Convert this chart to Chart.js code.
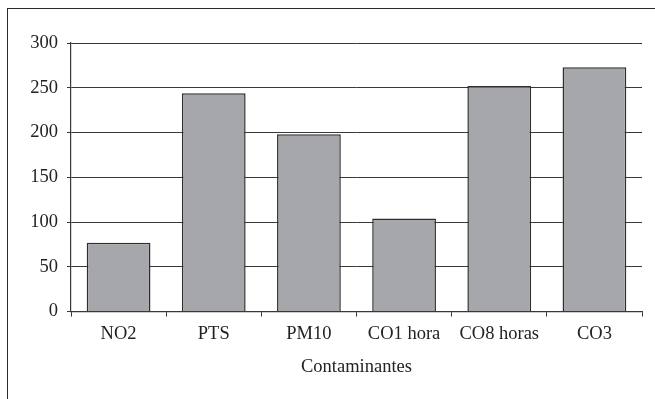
<!DOCTYPE html>
<html>
<head>
<meta charset="utf-8">
<script src="https://cdn.jsdelivr.net/npm/chart.js@4"></script>
<style>
  html, body { margin: 0; padding: 0; background: #fff; overflow: hidden; }
  #wrap { position: relative; width: 655px; height: 399px; }
  #frame { position: absolute; left: 7px; top: 8px; width: 700px; height: 500px;
           border: 1.5px solid #2a2a2a; box-sizing: border-box; }
  canvas { position: absolute; left: 0; top: 0; }
</style>
</head>
<body>
<div id="wrap">
  <div id="frame"></div>
  <canvas id="chart" width="655" height="399"></canvas>
</div>
<script>
// Contaminant categories and their values
const categories = ['NO2', 'PTS', 'PM10', 'CO1 hora', 'CO8 horas', 'CO3'];
const values = [77, 244, 198, 104, 252, 273];
const yTicks = [0, 50, 100, 150, 200, 250, 300];
const xTitle = 'Contaminantes';

const FONT = { family: '"Liberation Serif", "Times New Roman", serif', size: 18.5 };
const TEXT = '#222';
const LINE = '#383838';

new Chart(document.getElementById('chart'), {
  type: 'bar',
  data: {
    labels: categories,
    datasets: [{
      data: values,
      backgroundColor: '#a6a7ab',
      borderColor: '#2e2e2e',
      borderWidth: 1.5,
      categoryPercentage: 1,
      barPercentage: 0.67
    }]
  },
  options: {
    responsive: false,
    animation: false,
    devicePixelRatio: 1,
    layout: { padding: { left: 0, right: 13, top: 43, bottom: 21 } },
    plugins: { legend: { display: false }, tooltip: { enabled: false } },
    scales: {
      x: {
        grid: { drawOnChartArea: false, drawTicks: true, tickLength: 5, color: LINE, lineWidth: 1 },
        border: { color: LINE, width: 1.2 },
        ticks: { font: FONT, color: TEXT, padding: 6, maxRotation: 0 },
        title: { display: true, text: xTitle, font: FONT, color: TEXT, padding: { top: 5, bottom: 0 } }
      },
      y: {
        min: 0, max: 300,
        afterBuildTicks: (scale) => { scale.ticks = yTicks.map(v => ({ value: v })); },
        afterFit: (scale) => { scale.width = 71; },
        grid: { color: LINE, lineWidth: 1, tickLength: 4 },
        border: { color: LINE, width: 1.2 },
        ticks: { font: FONT, color: TEXT, padding: 9 }
      }
    }
  }
});
</script>
</body>
</html>
